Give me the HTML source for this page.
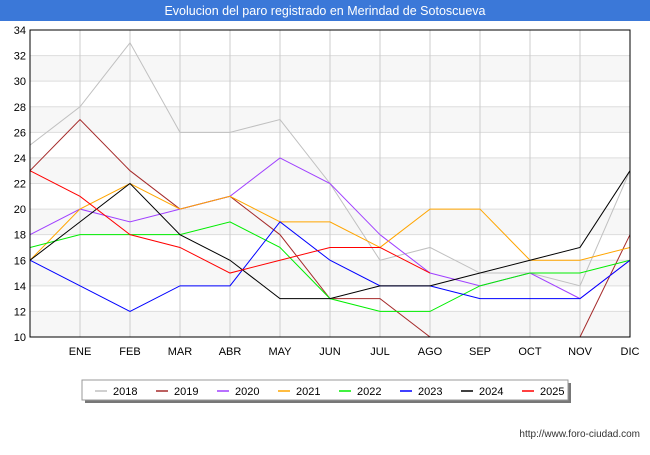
<!DOCTYPE html>
<html><head><meta charset="utf-8"><style>
body{margin:0;width:650px;height:450px;background:#fff;font-family:"Liberation Sans",sans-serif;overflow:hidden}
</style></head><body>
<svg width="650" height="450" font-family="Liberation Sans, sans-serif">
<rect x="0" y="0" width="650" height="21" fill="#3b78d8"/>
<text x="325" y="15" text-anchor="middle" fill="#fff" font-size="12.5">Evolucion del paro registrado en Merindad de Sotoscueva</text>
<g id="grid"></g>
<g id="series"></g>
<rect x="30" y="30" width="600" height="307" fill="none" stroke="#000"/>
<g id="legend"></g>
<text x="640" y="437" text-anchor="end" font-size="10" fill="#333">http://www.foro-ciudad.com</text>
<defs><clipPath id="clip"><rect x="30" y="30" width="600" height="307"/></clipPath></defs>
</svg>
<script>
const months=["","ENE","FEB","MAR","ABR","MAY","JUN","JUL","AGO","SEP","OCT","NOV","DIC"];
const yTicks=[10,12,14,16,18,20,22,24,26,28,30,32,34];
const seriesNames=["2018","2019","2020","2021","2022","2023","2024","2025"];
const seriesColors=["#c0c0c0","#a52a2a","#a040ff","#ffa500","#00ee00","#0000ff","#000000","#ff0000"];
const s2018=[25,28,33,26,26,27,22,16,17,15,15,14,23];
const s2019=[23,27,23,20,21,18,13,13,10,9,9,10,18];
const s2020=[18,20,19,20,21,24,22,18,15,14,15,13,16];
const s2021=[16,20,22,20,21,19,19,17,20,20,16,16,17];
const s2022=[17,18,18,18,19,17,13,12,12,14,15,15,16];
const s2023=[16,14,12,14,14,19,16,14,14,13,13,13,16];
const s2024=[16,19,22,18,16,13,13,14,14,15,16,17,23];
const s2025=[23,21,18,17,15,16,17,17,15];
const allSeries=[s2018,s2019,s2020,s2021,s2022,s2023,s2024,s2025];
const NS="http://www.w3.org/2000/svg";
const X=i=>30+i*50, Y=v=>337-(v-10)*(307/24);
function mk(t,a,p){const e=document.createElementNS(NS,t);for(const k in a)e.setAttribute(k,a[k]);p.appendChild(e);return e;}
const g=document.getElementById('grid');
for(let i=0;i<yTicks.length-1;i++){if(i%2==0){const r=mk('rect',{x:30,y:Y(yTicks[i+1]),width:600,height:Y(yTicks[i])-Y(yTicks[i+1]),fill:'#f7f7f7'},g);

}}
yTicks.forEach(v=>{const l=mk('line',{x1:30,x2:630,y1:Y(v),y2:Y(v),stroke:'#ddd'},g);


const t=mk('text',{x:26,y:Y(v)+4,'text-anchor':'end','font-size':11,fill:'#000'},g);t.textContent=v;

});
months.forEach((m,i)=>{const l=mk('line',{x1:X(i),x2:X(i),y1:30,y2:337,stroke:'#ccc'},g);


if(m){const t=mk('text',{x:X(i),y:355,'text-anchor':'middle','font-size':11,fill:'#000'},g);t.textContent=m;

}});
const sg=document.getElementById('series');sg.setAttribute('clip-path','url(#clip)');
allSeries.forEach((s,k)=>{const p=mk('polyline',{points:s.map((v,i)=>X(i)+','+Y(v)).join(' '),fill:'none',stroke:seriesColors[k],'stroke-width':1},sg);

});
const lg=document.getElementById('legend');
const sh=mk('rect',{x:85,y:383,width:486,height:20,fill:'#777'},lg);


const bx=mk('rect',{x:82,y:380,width:486,height:20,fill:'#fff',stroke:'#999'},lg);


seriesNames.forEach((n,k)=>{const x0=95+k*61;
const l=mk('line',{x1:x0,x2:x0+12,y1:391,y2:391,stroke:seriesColors[k],'stroke-width':1.5},lg);


const t=mk('text',{x:x0+18,y:395,'font-size':11,fill:'#000'},lg);t.textContent=n;

});
</script>
</body></html>
